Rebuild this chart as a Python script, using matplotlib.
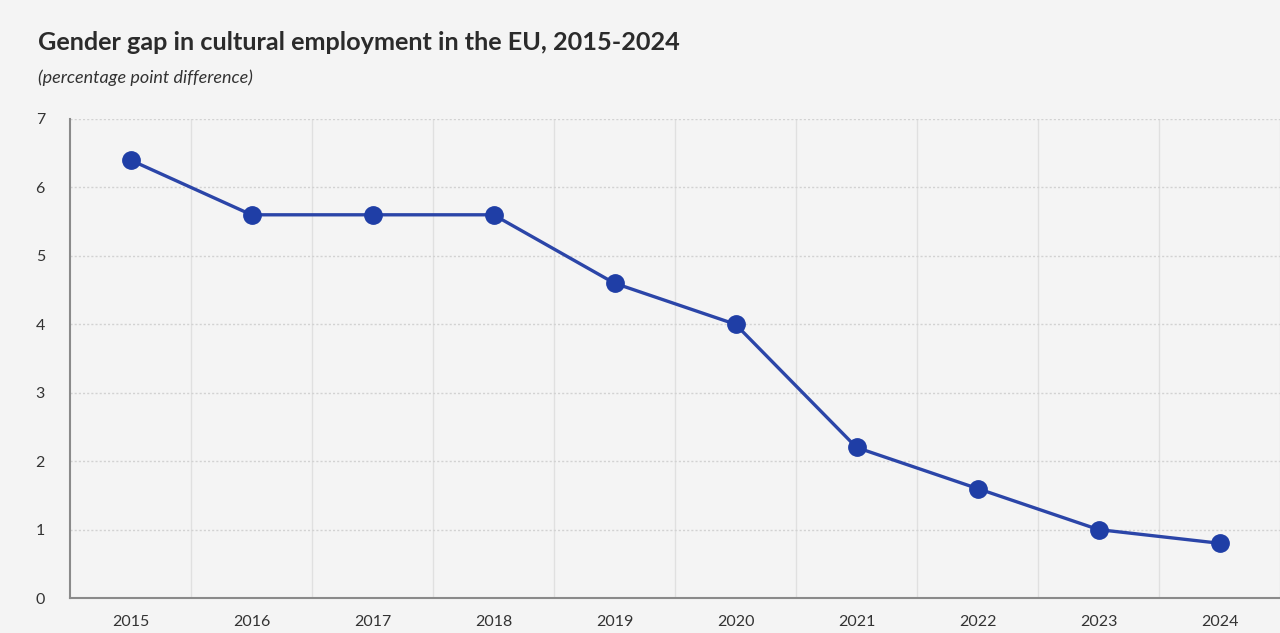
import matplotlib
matplotlib.use("Agg")
import matplotlib.pyplot as plt

years = ["2015", "2016", "2017", "2018", "2019", "2020", "2021", "2022", "2023", "2024"]
gap = [6.4, 5.6, 5.6, 5.6, 4.6, 4.0, 2.2, 1.6, 1.0, 0.8]
yticks = [0, 1, 2, 3, 4, 5, 6, 7]

plt.rcParams['font.family'] = ['Lato', 'DejaVu Sans']

bg = "#f4f4f4"
fig = plt.figure(figsize=(12.8, 6.33), dpi=100, facecolor=bg)
ax = fig.add_axes([70/1280, 1 - 598/633, 1 - 70/1280, (598 - 119)/633])
ax.set_facecolor(bg)

x = list(range(len(years)))
ax.plot(x, gap, color="#2b45a8", lw=2.4, marker="o", ms=12.5,
        markerfacecolor="#1f3ea6", markeredgecolor="#1f3ea6", zorder=3)

ax.set_xlim(-0.5, 9.43)
ax.set_ylim(0, 7)
ax.set_yticks(yticks)
ax.set_yticklabels([str(v) for v in yticks])
ax.set_xticks(x)
ax.set_xticklabels(years)
ax.set_xticks([i + 0.5 for i in range(len(years))], minor=True)

ax.grid(axis="y", which="major", color="#d2d2d2", linestyle=(0, (1.5, 1.5)), lw=1.0)
ax.grid(axis="x", which="minor", color="#e0e0e0", linestyle="-", lw=1.0)
ax.grid(axis="x", which="major", visible=False)
ax.set_axisbelow(True)

for s in ["top", "right"]:
    ax.spines[s].set_visible(False)
ax.spines["left"].set_color("#8a8a8a")
ax.spines["bottom"].set_color("#8a8a8a")
ax.spines["left"].set_linewidth(1.5)
ax.spines["bottom"].set_linewidth(1.5)
ax.tick_params(axis="both", which="both", length=0, labelsize=11.5, colors="#333333")
ax.tick_params(axis="x", pad=12)
ax.tick_params(axis="y", pad=18)

fig.text(38/1280, 1 - 43/633, "Gender gap in cultural employment in the EU, 2015-2024",
         fontsize=18.2, fontweight="bold", color="#2b2b2b", va="center", ha="left")
fig.text(38/1280, 1 - 78/633, "(percentage point difference)",
         fontsize=13, style="italic", color="#333333", va="center", ha="left")

fig.savefig("out.png", dpi=100, facecolor=bg)
